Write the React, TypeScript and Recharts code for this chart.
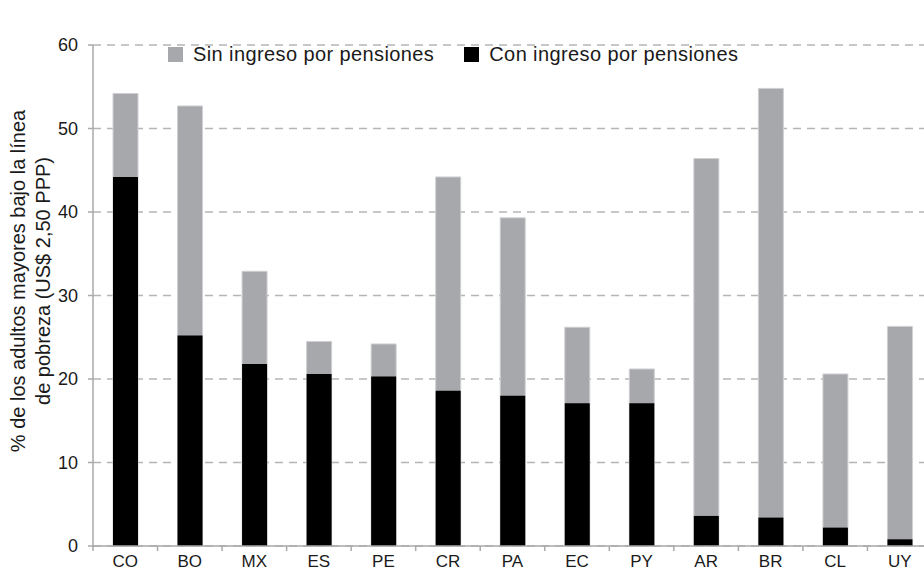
import React from "react";
import { BarChart, Bar, XAxis, YAxis, CartesianGrid, Legend } from "recharts";

const categories = ["CO", "BO", "MX", "ES", "PE", "CR", "PA", "EC", "PY", "AR", "BR", "CL", "UY"];
const sinIngreso = [54.2, 52.7, 32.9, 24.5, 24.2, 44.2, 39.3, 26.2, 21.2, 46.4, 54.8, 20.6, 26.3];
const conIngreso = [44.2, 25.2, 21.8, 20.6, 20.3, 18.6, 18.0, 17.1, 17.1, 3.6, 3.4, 2.2, 0.8];
const yTicks = [0, 10, 20, 30, 40, 50, 60];
const seriesNames = ["Sin ingreso por pensiones", "Con ingreso por pensiones"];
const yLabelLines = ["% de los adultos mayores bajo la línea", "de pobreza (US$ 2,50 PPP)"];

const data = categories.map((c, i) => ({ cat: c, sin: sinIngreso[i], con: conIngreso[i] }));

const GRAY = "#a7a8ab";
const AXIS = "#a9a9a9";
const FONT = "'Liberation Sans', Arial, sans-serif";

const XTick = (props: any) => {
  const { x, y, payload } = props;
  const off = payload && typeof payload.offset === "number" ? payload.offset : 32.25;
  return (
    <g>
      <line x1={x - off} x2={x - off} y1={y - 9} y2={y - 4} stroke={AXIS} strokeWidth={1.5} />
      <text x={x} y={y} dy="0.71em" textAnchor="middle" fontSize={17} fill="#1a1a1a" fontFamily={FONT}>
        {payload.value}
      </text>
    </g>
  );
};

const YLabel = () => {
  const cy = 281;
  return (
    <g>
      <text
        transform={`translate(25, ${cy}) rotate(-90)`}
        textAnchor="middle"
        fontSize={20}
        fill="#1a1a1a"
        fontFamily={FONT}
      >
        {yLabelLines[0]}
      </text>
      <text
        transform={`translate(50, ${cy}) rotate(-90)`}
        textAnchor="middle"
        fontSize={20}
        fill="#1a1a1a"
        fontFamily={FONT}
      >
        {yLabelLines[1]}
      </text>
    </g>
  );
};

const LegendContent = () => (
  <div style={{ display: "flex", alignItems: "center", fontFamily: FONT, fontSize: 20, letterSpacing: 0.4, color: "#1a1a1a" }}>
    <span style={{ width: 15, height: 15, background: GRAY, display: "inline-block", marginRight: 10 }} />
    <span style={{ marginRight: 30 }}>{seriesNames[0]}</span>
    <span style={{ width: 15, height: 15, background: "#000", display: "inline-block", marginRight: 10 }} />
    <span>{seriesNames[1]}</span>
  </div>
);

export default function App() {
  return (
    <div style={{ position: "fixed", left: 0, top: 0, width: 924, height: 570, overflow: "hidden", background: "#fff" }}>
      <BarChart
        width={940}
        height={570}
        data={data}
        margin={{ top: 22, right: 8, bottom: 0, left: 0 }}
        barGap={-25}
        barCategoryGap={0}
      >
        <CartesianGrid vertical={false} stroke="#b5b5b5" strokeDasharray="8 6" strokeWidth={1.3} />
        <XAxis
          dataKey="cat"
          height={24}
          tickSize={5}
          tickMargin={4}
          tickLine={false}
          axisLine={{ stroke: AXIS, strokeWidth: 1.5 }}
          tick={<XTick />}
          interval={0}
        />
        <YAxis
          width={93}
          domain={[0, 60]}
          ticks={yTicks}
          interval={0}
          tickSize={5}
          tickMargin={10}
          axisLine={{ stroke: AXIS, strokeWidth: 1.5 }}
          tickLine={{ stroke: AXIS, strokeWidth: 1.5 }}
          tick={{ fontSize: 18, fill: "#1a1a1a", fontFamily: FONT }}
          label={<YLabel />}
        />
        <Legend
          verticalAlign="top"
          align="left"
          content={<LegendContent />}
          wrapperStyle={{ position: "absolute", top: 43, left: 168, width: 700 }}
        />
        <Bar dataKey="sin" name={seriesNames[0]} fill={GRAY} stroke="#cfd0d2" strokeWidth={1} barSize={25} isAnimationActive={false} />
        <Bar dataKey="con" name={seriesNames[1]} fill="#000" barSize={25} isAnimationActive={false} />
      </BarChart>
    </div>
  );
}
